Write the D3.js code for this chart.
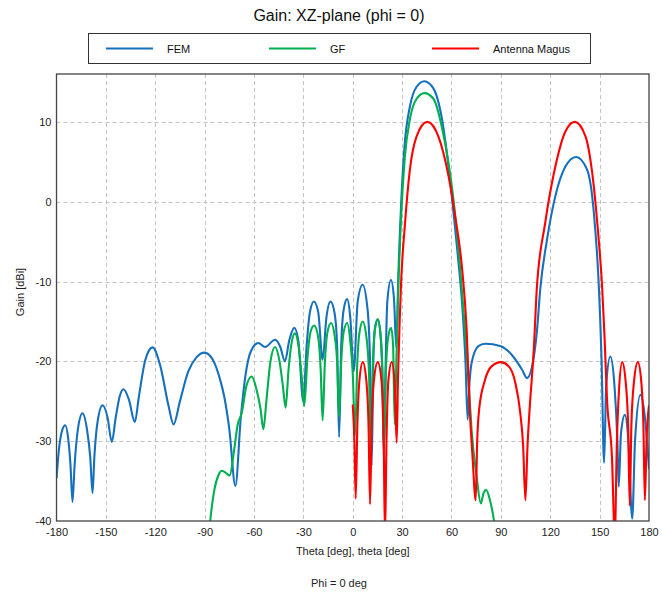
<!DOCTYPE html>
<html>
<head>
<meta charset="utf-8">
<script src="https://cdn.jsdelivr.net/npm/d3@7"></script>
<style>
  html, body { margin: 0; padding: 0; background: #fff; }
  svg { display: block; font-family: "Liberation Sans", Arial, sans-serif; }
</style>
</head>
<body>
<svg id="chart" width="663" height="592"></svg>
<script>
// ---------------- data ----------------
const title = "Gain: XZ-plane (phi = 0)";
const xLabel = "Theta [deg], theta [deg]";
const yLabel = "Gain [dBi]";
const footLabel = "Phi = 0 deg";
const seriesNames = ["FEM", "GF", "Antenna Magus"];
const xTicks = [-180, -150, -120, -90, -60, -30, 0, 30, 60, 90, 120, 150, 180];
const yTicks = [-40, -30, -20, -10, 0, 10];

const femTheta = [-180,-178.5,-176.5,-174.7,-173,-171.5,-170.3,-169,-167,-164.2,-161.5,-159.5,-158.1,-157,-155,-152,-149,-146.4,-144,-141.5,-139.3,-136,-132.4,-130,-126,-121.6,-117,-112,-108.9,-105,-100,-95,-90,-85,-81,-78,-75,-71.3,-68,-65,-62,-57.4,-53.3,-47.2,-44,-41.2,-38.5,-35.5,-33,-30.1,-28,-26,-23.6,-21,-18.3,-16,-13.5,-11,-9.5,-8.3,-7,-5.5,-3.4,-1.5,0.6,3,6,9,10.5,11.5,12.5,13.5,15.2,17,18,18.8,19.8,21,23.2,25,26.5,27.6,29.6,31.6,34.7,38.8,43.5,49,54.1,60.2,63.3,66.7,68.5,69.8,71,72.2,76.3,80.4,90,96.7,102.9,105.9,109,112,113.9,118,123.1,129.2,135.7,142.4,146.5,149.6,151.2,152.7,154,156.5,159,160.8,161.6,163,165.3,167.5,169.8,171.5,174.8,177.5,180];
const femGain = [-34.7,-31,-28.6,-28.0,-29.5,-33,-37.6,-33,-28.5,-26.5,-28.5,-32,-36.5,-32,-27.5,-25.5,-27,-30.1,-27,-24.3,-23.5,-24.8,-27.6,-24.5,-19.8,-18.25,-20.5,-25.5,-27.9,-25,-21.3,-19.5,-18.9,-19.8,-22,-24.5,-28.5,-35.6,-27,-21.5,-18.8,-17.7,-18.2,-17.3,-18.2,-20.0,-17.3,-15.8,-17.5,-25.0,-18,-13.8,-12.5,-13.8,-19.8,-14.5,-12.5,-14,-18,-29.5,-18,-13.5,-12.2,-14.5,-21.25,-12.5,-10.4,-13.5,-20,-33.1,-20,-15.8,-14.8,-17,-22,-31.7,-22,-12.5,-9.8,-12,-18.3,-10,0.6,7.3,11.9,14.4,15.1,14.2,10.5,0.7,-5.6,-13.5,-20,-27.3,-22.5,-20.2,-18.1,-17.8,-18.1,-19.2,-21.05,-22.1,-20.6,-16,-11,-4.8,0.7,4.4,5.6,4.0,-1.4,-11,-20,-32.7,-23,-19.4,-23,-30,-35.7,-29,-26.7,-30,-39.7,-30,-24.2,-27,-33.5];

const gfTheta = [-87.5,-86.6,-84,-81.5,-79.5,-77,-74.8,-72,-70,-67.5,-64.5,-61.4,-58.5,-56,-54.3,-52.5,-50,-47.2,-44.5,-42.5,-40.8,-39,-37,-35.2,-33,-31,-29.5,-27.5,-25.5,-23.4,-21,-19.5,-18.3,-17,-15.5,-13.2,-11,-9.5,-8.3,-7,-5.5,-3.4,-1.5,0,1.4,2.8,4,6.1,8,9.8,11,12.3,13.5,15.2,16.8,18,19,20.2,21.5,23.3,24.5,25.5,26.5,27.5,29.6,31.6,34.7,38.8,43.5,49,54.1,61.2,64.5,68.2,70.5,72.2,75.3,77.8,79.5,81,83.5,86.1,87];
const gfGain = [-42,-40,-36,-34.2,-33.7,-34.0,-34.3,-31,-28,-26.5,-23,-21.9,-23.5,-26,-28.5,-25,-20,-18.2,-20,-23,-25.8,-21,-17.5,-16.5,-18,-22,-25.6,-19.5,-16.2,-15.5,-17,-21,-27.4,-20.5,-16.5,-15.2,-16.8,-20,-27,-20,-16.3,-15.2,-17.5,-21.5,-29.3,-20,-16.5,-15.0,-16.5,-21,-31,-20,-16,-14.7,-16.5,-21,-31,-21,-17,-15.8,-18,-27.9,-20,-12,-1,5.5,10.3,12.9,13.6,12.9,9.4,0.25,-6.5,-16,-23,-28.6,-34.5,-37.8,-36.5,-36.1,-37.5,-40.4,-42];

const amTheta = [0,1,1.8,2.8,4,6.1,8.3,9.6,10.5,11.5,12.8,15.2,17.5,18.8,19.6,20.5,21.6,23.7,25.5,26.7,27.5,28.5,29.4,31.6,34.7,38.8,45.3,52,58.2,62.2,66.3,69.2,71.2,72.8,74.7,75.6,76.8,80.4,84.5,90,94.7,98.8,101.8,103.5,104.9,106.2,107.3,110,111.8,116.9,123.1,129.2,134.9,141.4,145.5,148.6,151.6,153,154.5,157.5,159.2,160.5,161.8,163.7,165.8,167.3,168.3,169.3,170.9,173.2,175.3,176.6,177.5,178.5,180];
const amGain = [-25.4,-30,-37.2,-28,-22.5,-20.1,-22.5,-28,-37.9,-28,-22.5,-20.1,-22.5,-30,-42,-30,-22.5,-20.1,-23,-30.2,-22,-15,-10,-3.1,4,8.2,10,8.2,3.2,-1.8,-8.1,-16,-26.5,-32,-37.4,-30,-26,-22.3,-20.6,-20.1,-20.6,-22.7,-26.5,-30.5,-37.4,-30.5,-26.5,-18.5,-11,-2.7,4.4,8.8,10,8.2,3.6,-2.7,-11,-17,-24.8,-32,-42,-30,-23.5,-20.1,-22.5,-28,-38.1,-28,-22.5,-20.1,-22.5,-28,-37.4,-30,-25.5];

const seriesColors = ["#1670be", "#00b050", "#ff0000"];

// ---------------- layout ----------------
const svg = d3.select("#chart");
const M = { left: 56.5, right: 649, top: 74, bottom: 521 };
const x = d3.scaleLinear().domain([-180, 180]).range([M.left, M.right]);
const y = d3.scaleLinear().domain([-40, 16]).range([M.bottom, M.top]);

svg.append("rect").attr("width", 663).attr("height", 592).attr("fill", "#fff");

// grid
const grid = svg.append("g").attr("stroke", "#c4c4c4").attr("stroke-width", 1).attr("stroke-dasharray", "4,3");
grid.selectAll("line.v").data(xTicks.slice(1, -1)).join("line")
  .attr("x1", d => Math.round(x(d)) + 0.5).attr("x2", d => Math.round(x(d)) + 0.5)
  .attr("y1", M.top).attr("y2", M.bottom);
grid.selectAll("line.h").data(yTicks.slice(1)).join("line")
  .attr("y1", d => Math.round(y(d)) + 0.5).attr("y2", d => Math.round(y(d)) + 0.5)
  .attr("x1", M.left).attr("x2", M.right);

// clip
svg.append("clipPath").attr("id", "clip").append("rect")
  .attr("x", M.left).attr("y", M.top).attr("width", M.right - M.left).attr("height", M.bottom - M.top);

const line = d3.line().x(d => x(d[0])).y(d => y(d[1])).curve(d3.curveMonotoneX);
const series = [
  d3.zip(femTheta, femGain),
  d3.zip(gfTheta, gfGain),
  d3.zip(amTheta, amGain)
];
const plot = svg.append("g").attr("clip-path", "url(#clip)");
[0, 1, 2].forEach(i => {
  plot.append("path").datum(series[i])
    .attr("fill", "none").attr("stroke", seriesColors[i])
    .attr("stroke-width", 2.1).attr("stroke-linejoin", "round")
    .attr("d", line);
});

// axes (tick labels only, plus frame)
const fmt = d => String(d);
const xAxis = d3.axisBottom(x).tickValues(xTicks).tickSize(0).tickPadding(7).tickFormat(fmt);
const gx = svg.append("g").attr("transform", `translate(0,${M.bottom})`).call(xAxis);
gx.select(".domain").remove();
gx.selectAll("text").attr("font-size", 11).attr("fill", "#222").attr("font-family", "Liberation Sans, Arial, sans-serif");

const yAxis = d3.axisLeft(y).tickValues(yTicks).tickSize(0).tickPadding(5).tickFormat(fmt);
const gy = svg.append("g").attr("transform", `translate(${M.left},0)`).call(yAxis);
gy.select(".domain").remove();
gy.selectAll("text").attr("font-size", 11).attr("fill", "#222").attr("font-family", "Liberation Sans, Arial, sans-serif");

svg.append("rect").attr("x", M.left).attr("y", M.top)
  .attr("width", M.right - M.left).attr("height", M.bottom - M.top)
  .attr("fill", "none").attr("stroke", "#444").attr("stroke-width", 1.3);

// labels
svg.append("text").attr("x", 339).attr("y", 21).attr("text-anchor", "middle")
  .attr("font-size", 16).attr("fill", "#111").text(title);
svg.append("text").attr("x", (M.left + M.right) / 2).attr("y", 555).attr("text-anchor", "middle")
  .attr("font-size", 11).attr("fill", "#222").text(xLabel);
svg.append("text").attr("x", 339).attr("y", 587).attr("text-anchor", "middle")
  .attr("font-size", 11).attr("fill", "#222").text(footLabel);
svg.append("text").attr("transform", "translate(24,292) rotate(-90)").attr("text-anchor", "middle")
  .attr("font-size", 11).attr("fill", "#222").text(yLabel);

// legend
const lg = svg.append("g");
lg.append("rect").attr("x", 88.5).attr("y", 33.5).attr("width", 502).attr("height", 30)
  .attr("fill", "#fff").attr("stroke", "#333").attr("stroke-width", 1);
const legendX = [106, 269, 432];
seriesNames.forEach((name, i) => {
  lg.append("line").attr("x1", legendX[i]).attr("x2", legendX[i] + 47)
    .attr("y1", 48.5).attr("y2", 48.5).attr("stroke", seriesColors[i]).attr("stroke-width", 2.2);
  lg.append("text").attr("x", legendX[i] + 61).attr("y", 52.5)
    .attr("font-size", 11).attr("fill", "#111").text(name);
});
</script>
</body>
</html>
